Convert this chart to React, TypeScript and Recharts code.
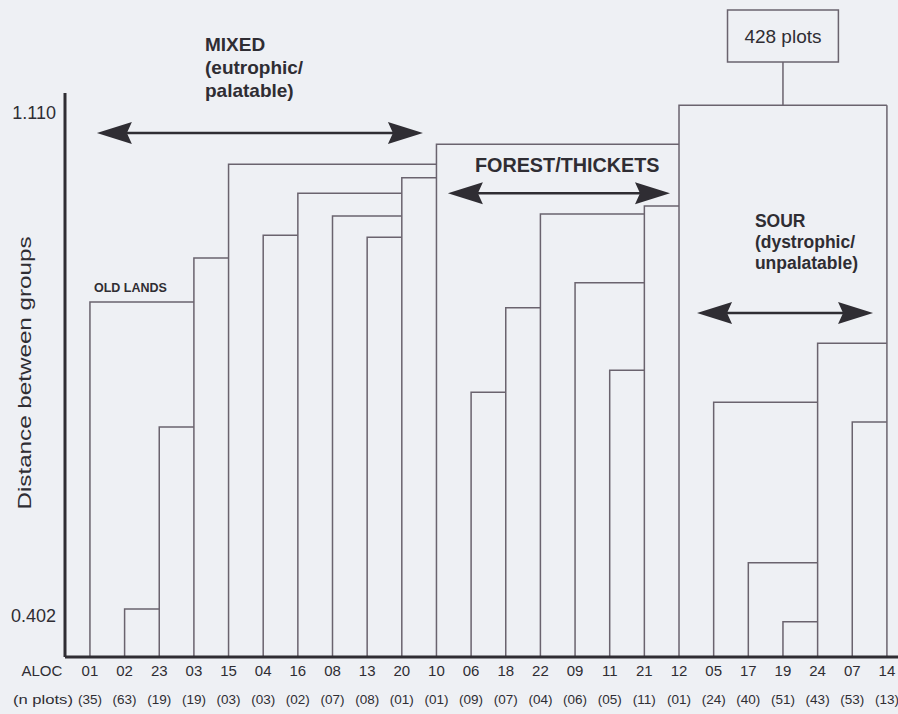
import React from 'react';
import {
  ComposedChart,
  Line,
  XAxis,
  YAxis,
  ReferenceLine,
  ReferenceArea,
  ReferenceDot,
  Label,
} from 'recharts';

// ALOC groups, left to right as they sit under the dendrogram
const codes = ['01', '02', '23', '03', '15', '04', '16', '08', '13', '20', '10', '06', '18', '22', '09', '11', '21', '12', '05', '17', '19', '24', '07', '14'];
const nPlots = ['35', '63', '19', '19', '03', '03', '02', '07', '08', '01', '01', '09', '07', '04', '06', '05', '11', '01', '24', '40', '51', '43', '53', '13'];
// height at which each group joins, and the group it joins into (index)
const joinHeight = [0.844, 0.412, 0.668, 0.906, 1.038, 0.938, 0.997, 0.965, 0.935, 1.019, 1.066, 0.717, 0.836, 0.968, 0.871, 0.748, 0.979, 1.121, 0.703, 0.477, 0.394, 0.786, 0.675, 1.121];
const joinTo: (number | null)[] = [3, 2, 3, 4, 10, 6, 9, 9, 9, 10, 17, 12, 13, 16, 16, 16, 17, 23, 21, 21, 21, 23, 23, null];
const yTicks = [0.402, 1.11];

const Y_MIN = 0.3443;
const Y_MAX = 1.1382;
const FONT = '"Liberation Sans", Arial, Helvetica, sans-serif';
const INK = '#2f2d33';
const LINE = '#6a636e';

const segments = codes.map((_, i) => {
  const pts = [
    { x: i, y: Y_MIN },
    { x: i, y: joinHeight[i] },
  ];
  const t = joinTo[i];
  if (t !== null) pts.push({ x: t, y: joinHeight[i] });
  return pts;
});

const rootX = (17 + 23) / 2;

const XTick = (props: any) => {
  const { x, y, payload } = props;
  const i = payload.value;
  return (
    <g fontFamily={FONT} fill={INK}>
      {i === 0 && (
        <>
          <text x={x - 48} y={y + 19} textAnchor="middle" fontSize={15}>ALOC</text>
          <text x={x - 77} y={y + 47} fontSize={13.5} textLength={60} lengthAdjust="spacingAndGlyphs">(n plots)</text>
        </>
      )}
      <text x={x} y={y + 19} textAnchor="middle" fontSize={15}>{codes[i]}</text>
      <text x={x} y={y + 47} textAnchor="middle" fontSize={13.5}>({nPlots[i]})</text>
    </g>
  );
};

const YTitle = (props: any) => {
  const vb = props.viewBox || { x: 0, y: 93, width: 65, height: 564 };
  const cx = vb.x + 31;
  const cy = vb.y + vb.height / 2 - 2;
  return (
    <text
      x={cx}
      y={cy}
      transform={`rotate(-90 ${cx} ${cy})`}
      textAnchor="middle"
      fontFamily={FONT}
      fontSize={19}
      fill={INK}
      textLength={273}
      lengthAdjust="spacingAndGlyphs"
    >
      Distance between groups
    </text>
  );
};

const Arrow = (p: any) => {
  const { x1, y1, x2, y2 } = p;
  const L = 35;
  const H = 11;
  return (
    <g>
      <line x1={x1 + L - 6} y1={y1} x2={x2 - L + 6} y2={y2} stroke={INK} strokeWidth={2.5} />
      <polygon points={`${x1},${y1} ${x1 + L},${y1 - H} ${x1 + L - 5},${y1} ${x1 + L},${y1 + H}`} fill={INK} />
      <polygon points={`${x2},${y2} ${x2 - L},${y2 - H} ${x2 - L + 5},${y2} ${x2 - L},${y2 + H}`} fill={INK} />
    </g>
  );
};

const textBlock = (lines: string[], size: number, gap: number) => (p: any) => (
  <text x={p.cx} y={p.cy} fontFamily={FONT} fontSize={size} fontWeight="bold" fill={INK}>
    {lines.map((l, k) => (
      <tspan key={k} x={p.cx} dy={k === 0 ? 0 : gap}>{l}</tspan>
    ))}
  </text>
);

export default function App() {
  return (
    <div style={{ position: 'absolute', left: 0, top: 0, width: 898, height: 714, background: '#eef0f4' }}>
      <ComposedChart width={898} height={714} margin={{ top: 93, right: 0, bottom: 0, left: 0 }}>
        <XAxis
          type="number"
          dataKey="x"
          domain={[-0.72, 23.32]}
          ticks={codes.map((_, i) => i)}
          interval={0}
          tick={<XTick />}
          tickLine={false}
          tickSize={0}
          tickMargin={0}
          axisLine={{ stroke: INK, strokeWidth: 3 }}
          height={57}
          allowDataOverflow
        />
        <YAxis
          type="number"
          domain={[Y_MIN, Y_MAX]}
          ticks={yTicks}
          tickFormatter={(v: number) => v.toFixed(3)}
          tick={{ fontSize: 18, fill: INK, fontFamily: FONT }}
          tickLine={false}
          tickSize={0}
          tickMargin={9}
          axisLine={{ stroke: INK, strokeWidth: 3 }}
          width={65}
        >
          <Label content={<YTitle />} />
        </YAxis>

        {segments.map((seg, i) => (
          <Line
            key={codes[i]}
            data={seg}
            dataKey="y"
            type="linear"
            stroke={LINE}
            strokeWidth={1.5}
            dot={false}
            activeDot={false}
            isAnimationActive={false}
          />
        ))}

        {/* root joins the "428 plots" box */}
        <ReferenceLine segment={[{ x: rootX, y: joinHeight[23] }, { x: rootX, y: 1.182 }]} stroke={LINE} strokeWidth={1.5} ifOverflow="visible" />
        <ReferenceArea x1={rootX - 1.6} x2={rootX + 1.6} y1={1.182} y2={1.255} fill="none" stroke={LINE} strokeWidth={1.5} fillOpacity={0} ifOverflow="visible">
          <Label value="428 plots" position="center" fontSize={19} fill={INK} fontFamily={FONT} />
        </ReferenceArea>

        {/* group arrows */}
        <ReferenceLine segment={[{ x: 0.2, y: 1.082 }, { x: 9.61, y: 1.082 }]} shape={Arrow} ifOverflow="visible" />
        <ReferenceLine segment={[{ x: 10.33, y: 0.997 }, { x: 16.74, y: 0.997 }]} shape={Arrow} ifOverflow="visible" />
        <ReferenceLine segment={[{ x: 17.52, y: 0.8285 }, { x: 22.6, y: 0.8285 }]} shape={Arrow} ifOverflow="visible" />

        {/* group names */}
        <ReferenceDot x={3.32} y={1.197} r={0} ifOverflow="visible" shape={textBlock(['MIXED', '(eutrophic/', 'palatable)'], 19, 23)} />
        <ReferenceDot x={11.11} y={1.027} r={0} ifOverflow="visible" shape={textBlock(['FOREST/THICKETS'], 19.8, 0)} />
        <ReferenceDot x={19.19} y={0.9496} r={0} ifOverflow="visible" shape={textBlock(['SOUR', '(dystrophic/', 'unpalatable)'], 17.5, 21)} />
        <ReferenceDot x={0.117} y={0.858} r={0} ifOverflow="visible" shape={textBlock(['OLD LANDS'], 12.5, 0)} />
      </ComposedChart>
    </div>
  );
}
